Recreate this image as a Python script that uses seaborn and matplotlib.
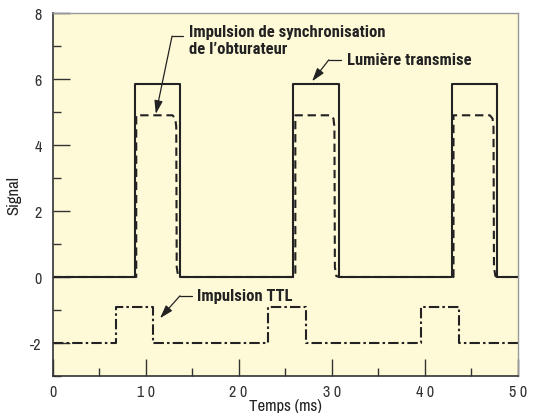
import matplotlib
matplotlib.use('Agg')
import matplotlib.pyplot as plt
import matplotlib.ticker as mtick
import seaborn as sns

# signal traces (time in ms)
t_light = [0, 8.9, 8.9, 13.75, 13.75, 25.9, 25.9, 30.8, 30.8, 42.9, 42.9, 47.8, 47.8, 50]
v_light = [0, 0, 5.85, 5.85, 0, 0, 5.85, 5.85, 0, 0, 5.85, 5.85, 0, 0]

t_sync = [0, 9.0, 9.0, 12.9, 13.2, 13.3, 13.35, 13.5, 13.75, 26.1, 26.1, 29.9, 30.2, 30.3, 30.35, 30.5, 30.8,
          43.1, 43.1, 47.0, 47.3, 47.4, 47.45, 47.6, 47.8, 50]
v_sync = [0, 0, 4.9, 4.9, 4.8, 4.55, 0.3, 0.03, 0, 0, 4.9, 4.9, 4.8, 4.55, 0.3, 0.03, 0,
          0, 4.9, 4.9, 4.8, 4.55, 0.3, 0.03, 0, 0]

t_ttl = [0, 6.8, 6.8, 10.85, 10.85, 23.2, 23.2, 27.25, 27.25, 39.6, 39.6, 43.7, 43.7, 50]
v_ttl = [-2, -2, -0.92, -0.92, -2, -2, -0.92, -0.92, -2, -2, -0.92, -0.92, -2, -2]

x_ticks = [0, 10, 20, 30, 40, 50]
y_ticks = [-2, 0, 2, 4, 6, 8]

sns.set_style('ticks')
plt.rcParams['font.family'] = ['Archivo Narrow', 'DejaVu Sans']
plt.rcParams['axes.unicode_minus'] = False

fig = plt.figure(figsize=(5.43, 4.14), dpi=100)
ax = fig.add_axes([0.0967, 0.0894, 0.8567, 0.8768])
ax.set_facecolor('#fefad8')

ink = '#222222'
lw = 1.5
sns.lineplot(x=t_light, y=v_light, ax=ax, sort=False, estimator=None, color=ink, lw=lw)
sns.lineplot(x=t_sync, y=v_sync, ax=ax, sort=False, estimator=None, color=ink, lw=lw,
             linestyle=(0, (4, 2.3)))
sns.lineplot(x=t_ttl, y=v_ttl, ax=ax, sort=False, estimator=None, color=ink, lw=lw,
             linestyle=(0, (5, 1.5, 1.2, 1.5)))

ax.set_xlim(0, 50)
ax.set_ylim(-3, 8)
ax.set_xticks(x_ticks)
ax.set_yticks(y_ticks)
ax.set_xticklabels([' '.join(str(v)) for v in x_ticks])
ax.xaxis.set_minor_locator(mtick.MultipleLocator(5))
ax.yaxis.set_minor_locator(mtick.MultipleLocator(1))
ax.tick_params(which='major', direction='in', length=12, width=1, labelsize=11.5, labelcolor='#333333', color='#333333')
ax.tick_params(which='minor', direction='in', length=6, width=1, color='#333333')
ax.tick_params(axis='x', pad=6)
ax.tick_params(axis='y', pad=8)
for s in ['left', 'bottom']:
    ax.spines[s].set_color('#333333')
    ax.spines[s].set_linewidth(1.2)
for s in ['top', 'right']:
    ax.spines[s].set_color('#999999')
    ax.spines[s].set_linewidth(1)

ax.set_xlabel('Temps (ms)', fontsize=12, labelpad=-1, color='#222222')
ax.set_ylabel('Signal', fontsize=12, labelpad=6, color='#222222')

akw = dict(arrowstyle='-|>,head_length=0.8,head_width=0.25', color=ink, lw=0.9, shrinkA=0, shrinkB=0)
tkw = dict(fontsize=12, fontweight='semibold', color=ink, family=['Roboto Condensed', 'DejaVu Sans'])

ax.annotate('', xy=(11.1, 4.94), xytext=(12.85, 7.3), arrowprops=akw)
ax.plot([12.85, 14.0], [7.3, 7.3], color=ink, lw=0.9)
ax.text(14.7, 7.66, 'Impulsion de synchronisation\nde l\u2019obturateur', va='top', ha='left',
        linespacing=1.15, **tkw)

ax.annotate('', xy=(27.9, 5.93), xytext=(29.7, 6.58), arrowprops=akw)
ax.plot([29.7, 31.0], [6.58, 6.58], color=ink, lw=0.9)
ax.text(31.6, 6.58, 'Lumière transmise', va='center', **tkw)

ax.annotate('', xy=(11.55, -1.25), xytext=(13.7, -0.57), arrowprops=akw)
ax.plot([13.7, 15.0], [-0.57, -0.57], color=ink, lw=0.9)
ax.text(15.5, -0.55, 'Impulsion TTL', va='center', **tkw)

plt.savefig('out.png', dpi=100)
